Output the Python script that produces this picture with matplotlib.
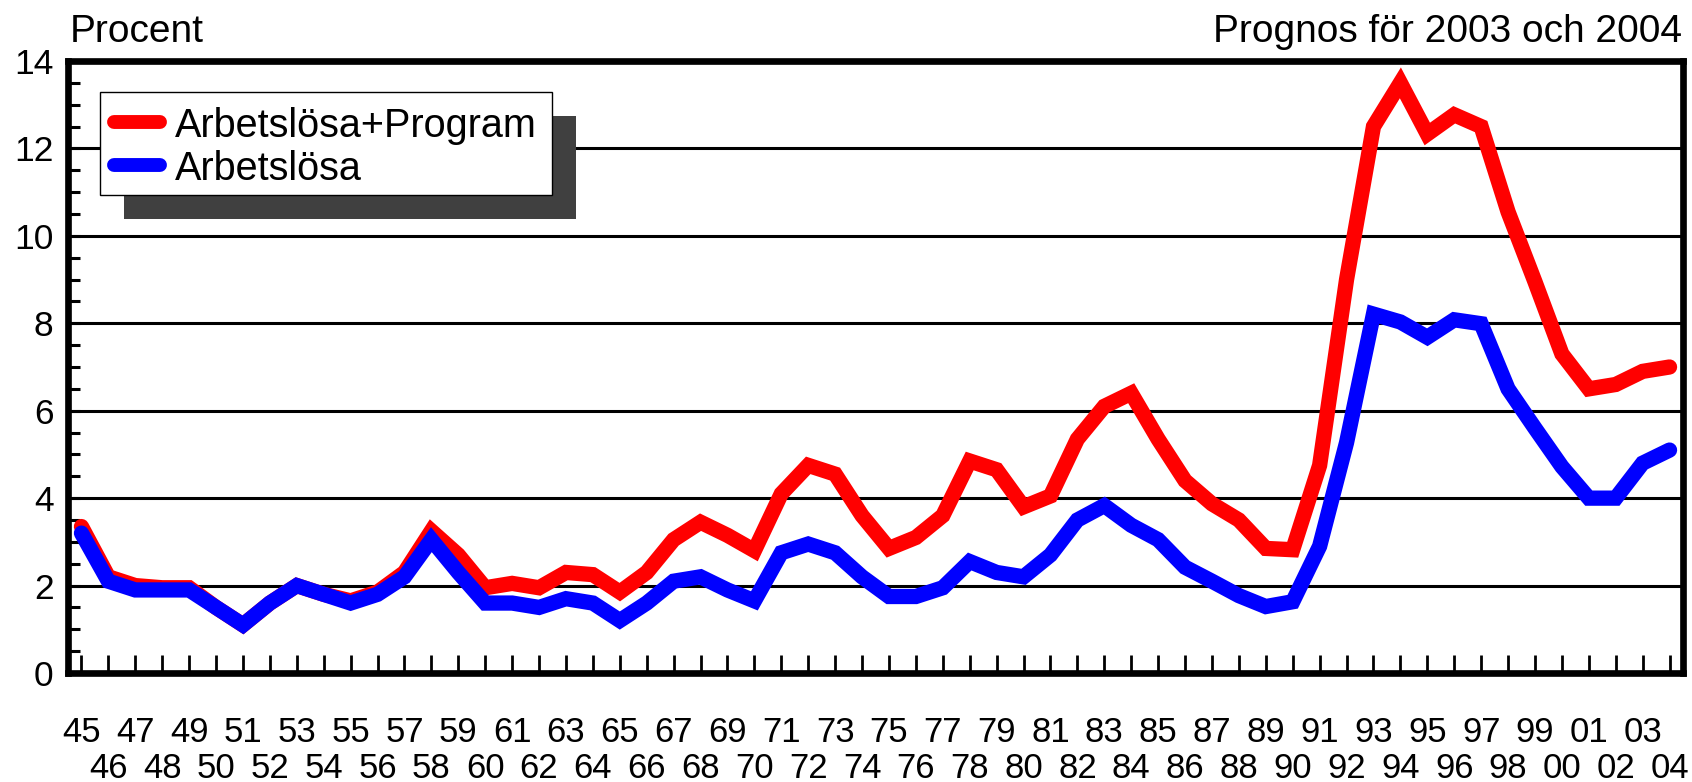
import matplotlib
matplotlib.use("Agg")
import matplotlib.pyplot as plt
from matplotlib.patches import Rectangle
from matplotlib.lines import Line2D
import numpy as np

plt.rcParams['font.family'] = ['Liberation Sans', 'DejaVu Sans']

years = ['45', '46', '47', '48', '49', '50', '51', '52', '53', '54', '55', '56', '57', '58', '59',
         '60', '61', '62', '63', '64', '65', '66', '67', '68', '69', '70', '71', '72', '73', '74',
         '75', '76', '77', '78', '79', '80', '81', '82', '83', '84', '85', '86', '87', '88', '89',
         '90', '91', '92', '93', '94', '95', '96', '97', '98', '99', '00', '01', '02', '03', '04']

arbetslosa_program = [3.35, 2.2, 2.0, 1.95, 1.95, 1.5, 1.1, 1.6, 2.0, 1.8,
                      1.65, 1.85, 2.3, 3.25, 2.7, 1.95, 2.05, 1.95, 2.3, 2.25,
                      1.85, 2.3, 3.05, 3.45, 3.15, 2.8, 4.1, 4.75, 4.55, 3.6,
                      2.85, 3.1, 3.6, 4.85, 4.65, 3.8, 4.05, 5.35, 6.1, 6.4,
                      5.35, 4.4, 3.87, 3.5, 2.85, 2.82, 4.75, 9.0, 12.5, 13.5,
                      12.33, 12.77, 12.5, 10.55, 8.95, 7.3, 6.5, 6.6, 6.9, 7.0]

arbetslosa = [3.2, 2.1, 1.9, 1.9, 1.9, 1.5, 1.1, 1.6, 2.0, 1.8,
              1.6, 1.8, 2.2, 3.05, 2.3, 1.6, 1.6, 1.5, 1.7, 1.6,
              1.2, 1.6, 2.1, 2.2, 1.9, 1.65, 2.75, 2.95, 2.75, 2.2,
              1.75, 1.75, 1.95, 2.55, 2.3, 2.2, 2.7, 3.5, 3.83, 3.38,
              3.05, 2.42, 2.1, 1.77, 1.52, 1.63, 2.9, 5.27, 8.21, 8.03,
              7.68, 8.08, 7.99, 6.5, 5.6, 4.72, 4.0, 4.0, 4.8, 5.1]

series_labels = ['Arbetslösa+Program', 'Arbetslösa']
y_major = [0, 2, 4, 6, 8, 10, 12, 14]

W, H = 1692, 782
fig = plt.figure(figsize=(W / 100, H / 100), dpi=100)
ax = fig.add_axes([68 / W, 1 - 673 / H, (1683 - 68) / W, (673 - 61) / H])

x = np.arange(len(years))
ax.set_xlim(-0.5, len(years) - 0.5)
ax.set_ylim(0, 14)

for v in y_major[1:-1]:
    ax.axhline(v, color='black', lw=2.2, zorder=1)

ax.plot(x, arbetslosa_program, color='#ff0000', lw=11, solid_joinstyle='miter',
        solid_capstyle='round', zorder=3)
ax.plot(x, arbetslosa, color='#0000ff', lw=11, solid_joinstyle='miter',
        solid_capstyle='round', zorder=4)

for s in ax.spines.values():
    s.set_linewidth(4.8)
    s.set_zorder(6)

ax.set_yticks(y_major)
ax.set_yticklabels([str(v) for v in y_major])
ax.set_yticks(np.arange(0, 14.01, 0.5), minor=True)
ax.tick_params(axis='y', which='both', direction='in', length=8.5, width=2.2, labelsize=25.5, pad=10.5)
ax.tick_params(axis='y', which='both', right=False)

# two rows of year labels: odd positions on the first row, even on the second
ax.set_xticks(x[::2])
ax.set_xticklabels(years[::2])
ax.set_xticks(x[1::2], minor=True)
ax.set_xticklabels(years[1::2], minor=True)
ax.tick_params(axis='x', which='both', direction='in', length=13, width=2.0, labelsize=25)
ax.tick_params(axis='x', which='major', pad=31)
ax.tick_params(axis='x', which='minor', pad=57)

# Legend with shadow
lx0, ly0, lx1, ly1 = 100, 92, 552, 195
sh = 24
fig.patches.append(Rectangle(((lx0 + sh) / W, 1 - (ly1 + sh) / H), (lx1 - lx0) / W, (ly1 - ly0) / H,
                             transform=fig.transFigure, facecolor='#404040', edgecolor='none', zorder=7))
fig.patches.append(Rectangle((lx0 / W, 1 - ly1 / H), (lx1 - lx0) / W, (ly1 - ly0) / H,
                             transform=fig.transFigure, facecolor='white', edgecolor='black', lw=1.0, zorder=8))
for yy, col, lab in [(122, '#ff0000', series_labels[0]), (165, '#0000ff', series_labels[1])]:
    fig.lines.append(Line2D([114 / W, 160 / W], [1 - yy / H, 1 - yy / H], transform=fig.transFigure,
                            color=col, lw=10, solid_capstyle='round', zorder=9))
    fig.text(175 / W, 1 - yy / H, lab, fontsize=28.5, va='center_baseline', ha='left', zorder=9)

fig.text(70 / W, 1 - 42 / H, 'Procent', fontsize=28, ha='left', va='baseline')
fig.text(1682 / W, 1 - 42 / H, 'Prognos för 2003 och 2004', fontsize=28, ha='right', va='baseline')

fig.savefig('out.png', dpi=100)
